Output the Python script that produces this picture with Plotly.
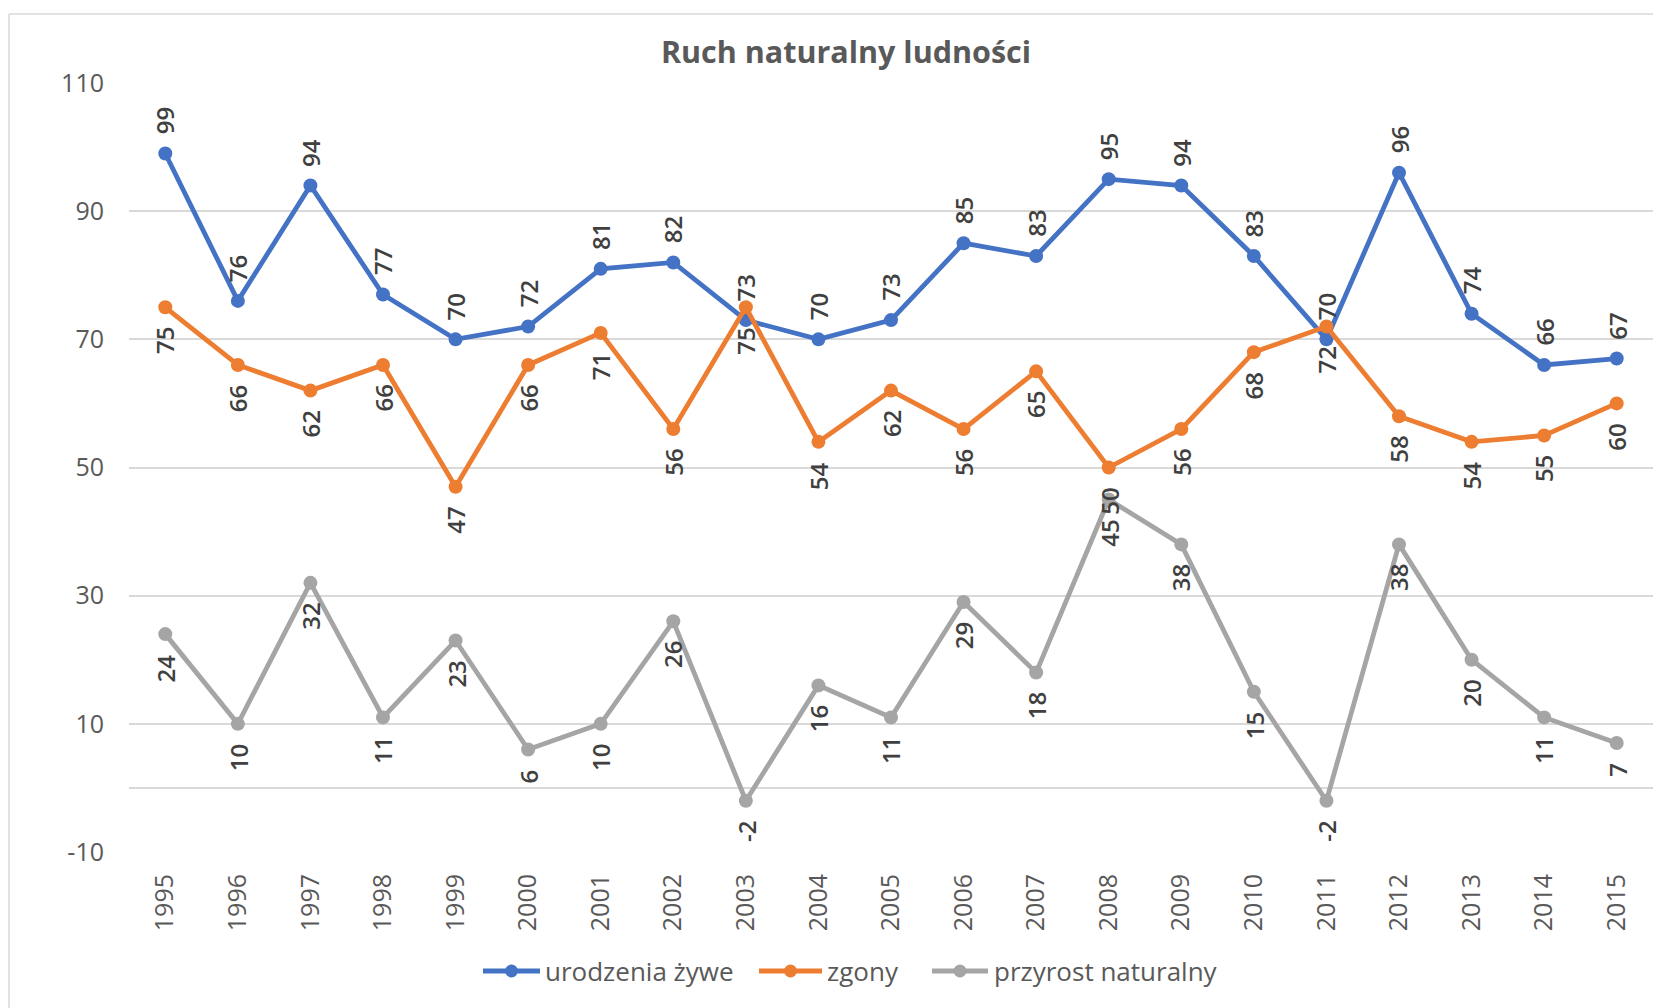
import plotly.graph_objects as go

# ---- data ----
years = ["1995", "1996", "1997", "1998", "1999", "2000", "2001", "2002", "2003", "2004",
         "2005", "2006", "2007", "2008", "2009", "2010", "2011", "2012", "2013", "2014", "2015"]
urodzenia = [99, 76, 94, 77, 70, 72, 81, 82, 73, 70, 73, 85, 83, 95, 94, 83, 70, 96, 74, 66, 67]
zgony = [75, 66, 62, 66, 47, 66, 71, 56, 75, 54, 62, 56, 65, 50, 56, 68, 72, 58, 54, 55, 60]
przyrost = [24, 10, 32, 11, 23, 6, 10, 26, -2, 16, 11, 29, 18, 45, 38, 15, -2, 38, 20, 11, 7]
y_ticks = [-10, 10, 30, 50, 70, 90, 110]
series_names = ["urodzenia żywe", "zgony", "przyrost naturalny"]

# ---- style ----
W, H = 1653, 1008
ML, MR, MT, MB = 129, 0, 83, 156
FONT = "Open Sans"
colors = ["#4472C4", "#ED7D31", "#A5A5A5"]
pw = W - ML - MR
ph = H - MT - MB


def px_to_paper_x(px):
    return (px - ML) / pw


def px_to_paper_y(py):
    return (H - MB - py) / ph


fig = go.Figure()
for name, vals, col in zip(series_names, [urodzenia, zgony, przyrost], colors):
    fig.add_trace(go.Scatter(
        x=years, y=vals, name=name, mode="lines+markers",
        line=dict(color=col, width=4.8),
        marker=dict(color=col, size=14),
        hoverinfo="x+y+name", showlegend=False,
    ))

annotations = []
for i, vals in enumerate([urodzenia, zgony, przyrost]):
    above = (i == 0)
    for j, v in enumerate(vals):
        annotations.append(dict(
            x=j, y=v, xref="x", yref="y", text=str(v), showarrow=False,
            textangle=-90,
            xanchor="center",
            yanchor="bottom" if above else "top",
            yshift=17 if above else -18,
            font=dict(family=FONT, size=24, color="#404040", weight=600),
        ))

shapes = []
# outer chart border (left and top edges visible)
bx0 = px_to_paper_x(9)
by1 = px_to_paper_y(14)
shapes.append(dict(type="line", xref="paper", yref="paper", x0=bx0, x1=bx0, y0=by1, y1=-0.3,
                   line=dict(color="#d9d9d9", width=1.5), layer="below"))
shapes.append(dict(type="line", xref="paper", yref="paper", x0=bx0, x1=1.05, y0=by1, y1=by1,
                   line=dict(color="#d9d9d9", width=1.5), layer="below"))

# custom legend (pixel positions of each item: line start, line end, text start)
legend_items = [(483, 540, 543), (759, 822, 825), (932, 988, 992)]
leg_y = px_to_paper_y(971)
for (x0, x1, xt), name, col in zip(legend_items, series_names, colors):
    shapes.append(dict(type="line", xref="paper", yref="paper",
                       x0=px_to_paper_x(x0), x1=px_to_paper_x(x1), y0=leg_y, y1=leg_y,
                       line=dict(color=col, width=4.8)))
    shapes.append(dict(type="circle", xref="paper", yref="paper",
                       xsizemode="pixel", ysizemode="pixel",
                       xanchor=px_to_paper_x((x0 + x1) / 2), yanchor=leg_y,
                       x0=-6.5, x1=6.5, y0=-6.5, y1=6.5,
                       fillcolor=col, line=dict(color=col, width=0)))
    annotations.append(dict(x=px_to_paper_x(xt), y=leg_y, xref="paper", yref="paper",
                            text=name, showarrow=False, xanchor="left", yanchor="middle",
                            font=dict(family=FONT, size=26, color="#595959")))

fig.update_layout(
    width=W, height=H,
    margin=dict(l=ML, r=MR, t=MT, b=MB, pad=0),
    paper_bgcolor="white", plot_bgcolor="white",
    title=dict(text="Ruch naturalny ludności", x=846 / W, xanchor="center",
               y=1 - 52 / H, yanchor="middle",
               font=dict(family=FONT, size=30.5, color="#595959", weight=700)),
    showlegend=False,
    xaxis=dict(type="category", range=[-0.5, len(years) - 0.5], showgrid=False,
               tickangle=-90, ticks="", showline=False, zeroline=False,
               tickfont=dict(family=FONT, size=25, color="#595959"),
               ticklabelstandoff=16),
    yaxis=dict(range=[-10, 110], tickvals=y_ticks, ticktext=[str(t) for t in y_ticks],
               showgrid=True, gridcolor="#d9d9d9", gridwidth=1.5,
               zeroline=True, zerolinecolor="#d9d9d9", zerolinewidth=1.5,
               showline=False, ticks="",
               tickfont=dict(family=FONT, size=25, color="#595959"),
               ticklabelstandoff=24),
    annotations=annotations,
    shapes=shapes,
    font=dict(family=FONT),
)

fig.write_html("out.html", config={"displayModeBar": False},
               post_script="document.body.style.margin='0';document.body.style.overflow='hidden';")
